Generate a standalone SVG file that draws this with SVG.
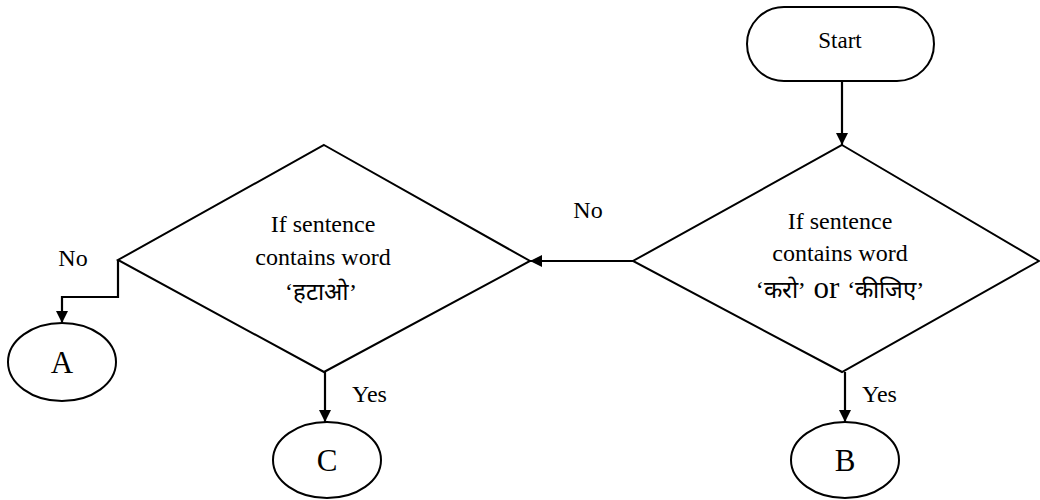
<svg xmlns="http://www.w3.org/2000/svg" width="1040" height="500" viewBox="0 0 1040 500">
  <style>
    .shape { fill: #fff; stroke: #000; stroke-width: 2; }
    .line { fill: none; stroke: #000; stroke-width: 2.2; }
    text { font-family: "Liberation Serif", "Times New Roman", "DejaVu Serif", serif; fill: #000; text-anchor: middle; }
    .lbl { font-size: 24px; }
    .big { font-size: 31px; }
    .deva { font-size: 24px; }
    .letter { font-size: 31px; }
  </style>
  <defs>
    <marker id="arrow" viewBox="0 0 14 14" refX="14" refY="7" markerWidth="14" markerHeight="12" markerUnits="userSpaceOnUse" orient="auto">
      <path d="M0,0 L14,7 L0,14 Z" fill="#000"/>
    </marker>
  </defs>

  <!-- connectors -->
  <g id="connectors">
    <line class="line" x1="842" y1="81" x2="842" y2="145" marker-end="url(#arrow)"/>
    <line class="line" x1="633" y1="261" x2="530" y2="261" marker-end="url(#arrow)"/>
    <polyline class="line" points="118,260 118,297 62,297 62,323" marker-end="url(#arrow)"/>
    <line class="line" x1="325" y1="372" x2="325" y2="422" marker-end="url(#arrow)"/>
    <line class="line" x1="845" y1="372" x2="845" y2="422" marker-end="url(#arrow)"/>
    <text class="lbl" x="588" y="218">No</text>
    <text class="lbl" x="73" y="266">No</text>
    <text class="lbl" x="352" y="402" style="text-anchor:start">Yes</text>
    <text class="lbl" x="862" y="402" style="text-anchor:start">Yes</text>
  </g>

  <g id="start">
    <rect class="shape" x="747" y="7" width="187" height="74" rx="37" ry="37"/>
    <text x="840" y="48" style="font-size:23px">Start</text>
  </g>

  <g id="decision-karo">
    <polygon class="shape" points="842,145 1039,261 842,372 633,261"/>
    <text class="lbl" x="840" y="229">If sentence</text>
    <text class="lbl" x="840" y="261">contains word</text>
    <text x="840" y="298"><tspan class="deva">‘करो’</tspan><tspan class="big"> or </tspan><tspan class="deva">‘कीजिए’</tspan></text>
  </g>

  <g id="decision-hatao">
    <polygon class="shape" points="324,145 530,261 324,372 118,260"/>
    <text class="lbl" x="323" y="232">If sentence</text>
    <text class="lbl" x="323" y="265">contains word</text>
    <text class="deva" x="321" y="300">‘हटाओ’</text>
  </g>

  <g id="node-a">
    <ellipse class="shape" cx="62" cy="362" rx="54" ry="39"/>
    <text class="letter" x="62" y="373">A</text>
  </g>

  <g id="node-c">
    <ellipse class="shape" cx="327" cy="460" rx="54" ry="38"/>
    <text class="letter" x="327" y="471">C</text>
  </g>

  <g id="node-b">
    <ellipse class="shape" cx="845" cy="460" rx="54" ry="38"/>
    <text class="letter" x="845" y="471">B</text>
  </g>
</svg>
